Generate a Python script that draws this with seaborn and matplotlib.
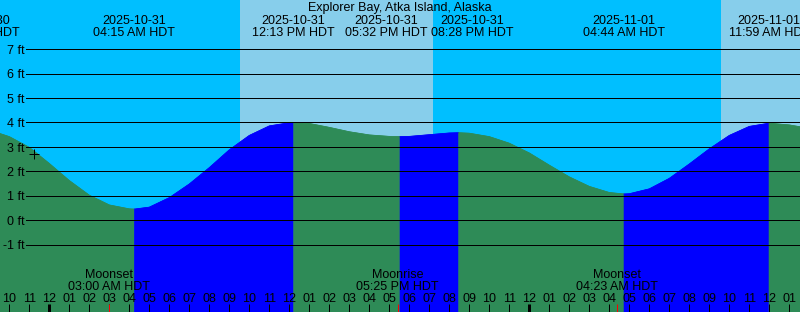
import matplotlib
matplotlib.use("Agg")
import matplotlib.pyplot as plt
import numpy as np
import pandas as pd
import seaborn as sns

plt.rcParams['font.family'] = ['Liberation Sans', 'DejaVu Sans']

# ---------------- data ----------------
title = "Explorer Bay, Atka Island, Alaska"
tz = "HDT"
origin = "2025-10-31 12:00 AM"
view_start = "2025-10-30 09:32 PM"
view_end = "2025-11-01 01:32 PM"

# tide extremes (time, height in ft)
ext_times = ["2025-10-30 08:27 PM", "2025-10-31 04:15 AM", "2025-10-31 12:13 PM",
             "2025-10-31 05:32 PM", "2025-10-31 08:28 PM", "2025-11-01 04:44 AM",
             "2025-11-01 11:59 AM"]
ext_ft = [3.73, 0.45, 4.00, 3.42, 3.58, 1.07, 3.97]

# tide height read at each hour (hours since 2025-10-31 00:00)
sample_hours = list(range(-3, 39))
sample_ft = [3.69, 3.42, 2.98, 2.32, 1.62, 1.02, 0.62, 0.46, 0.53, 0.92,
             1.48, 2.15, 2.88, 3.47, 3.86, 3.99, 3.96, 3.80, 3.62, 3.49,
             3.43, 3.43, 3.50, 3.57, 3.56, 3.42, 3.15, 2.75, 2.25, 1.77,
             1.38, 1.13, 1.08, 1.28, 1.71, 2.30, 2.92, 3.47, 3.84, 3.97,
             3.90, 3.76]

# moon events
moon_names = ["Moonset", "Moonrise", "Moonset"]
moon_times = ["2025-10-31 03:00 AM", "2025-10-31 05:25 PM", "2025-11-01 04:23 AM"]

# daylight (sunrise, sunset)
sunrise_times = ["2025-10-31 09:32 AM", "2025-11-01 09:35 AM"]
sunset_times = ["2025-10-31 07:11 PM", "2025-11-01 07:09 PM"]

# current-time marker
now_time = "2025-10-30 11:14 PM"
now_ft = 2.70

ft_levels = [-1, 0, 1, 2, 3, 4, 5, 6, 7]

# ---------------- helpers ----------------
FMT = "%Y-%m-%d %I:%M %p"
t0 = pd.to_datetime(origin, format=FMT)


def hrs(s):
    return (pd.to_datetime(s, format=FMT) - t0) / pd.Timedelta(hours=1)


W, H = 800, 312
BG = "#00BFFF"
DAY = "#87CEEB"
FALL = "#2E8B57"
RISE = "#0000FF"
FS = 9
PX = 72 / 100  # points per pixel

fig = plt.figure(figsize=(W / 100, H / 100), dpi=100)
fig.patch.set_facecolor(BG)
ax = fig.add_axes([0, 0, 1, 1])
ax.set_facecolor(BG)
for s in ax.spines.values():
    s.set_visible(False)
ax.set_xticks([])
ax.set_yticks([])

ax.set_xlim(hrs(view_start), hrs(view_end))
ax.set_ylim(-3.766, 9.02)


def yfrac(ypix):
    return 1 - ypix / H


xtr = ax.get_xaxis_transform()
ytr = ax.get_yaxis_transform()

# daylight bands
for sr, ss in zip(sunrise_times, sunset_times):
    ax.axvspan(hrs(sr), hrs(ss), color=DAY, lw=0, zorder=0)

# tide curve
ext_h = [hrs(t) for t in ext_times]
df = pd.DataFrame({"h": sample_hours + ext_h, "ft": sample_ft + ext_ft})
df = df.sort_values("h").reset_index(drop=True)

bounds = [-np.inf] + sorted(ext_h) + [np.inf]
for b0, b1 in zip(bounds[:-1], bounds[1:]):
    seg = df[(df.h >= b0) & (df.h <= b1)]
    if len(seg) < 2:
        continue
    color = RISE if seg.ft.iloc[-1] > seg.ft.iloc[0] else FALL
    ax.fill_between(seg.h, seg.ft, -10, color=color, lw=0.4, zorder=1)
    sns.lineplot(x=seg.h.values, y=seg.ft.values, ax=ax, color=color,
                 linewidth=0.6, estimator=None, sort=False, zorder=2)

# horizontal ft lines and labels
for lv in ft_levels:
    ax.axhline(lv, xmin=26 / W, xmax=1, color="black", lw=1 * PX, zorder=3)
    ax.annotate(f"{lv} ft", xy=(24.5 / W, lv), xycoords=ytr,
                xytext=(0, -4.7 * PX), textcoords="offset points",
                ha="right", va="baseline", fontsize=FS, zorder=4)

# current marker
sns.scatterplot(x=[hrs(now_time)], y=[now_ft], ax=ax, marker="+", s=(10 * PX) ** 2,
                color="black", linewidth=1 * PX, zorder=5)

# title
ax.text(0.5, yfrac(11), title, transform=ax.transAxes, ha="center",
        va="baseline", fontsize=FS, zorder=6)

# extreme labels
dates, times = [], []
for t in ext_times:
    ts = pd.to_datetime(t, format=FMT)
    x = hrs(t)
    d = ax.text(x, yfrac(24), ts.strftime("%Y-%m-%d"), transform=xtr,
                ha="center", va="baseline", fontsize=FS, zorder=6)
    tt = ax.text(x, yfrac(36), ts.strftime("%I:%M %p") + " " + tz, transform=xtr,
                 ha="center", va="baseline", fontsize=FS, zorder=6)
    dates.append(d)
    times.append(tt)

fig.canvas.draw()
r = fig.canvas.get_renderer()
widths = [max(d.get_window_extent(r).width, t.get_window_extent(r).width)
          for d, t in zip(dates, times)]
centers = [ax.transData.transform((h, 0))[0] for h in ext_h]
gap = 3
for _ in range(30):
    for i in range(len(centers) - 1):
        ov = (centers[i] + widths[i] / 2 + gap) - (centers[i + 1] - widths[i + 1] / 2)
        if ov > 0:
            centers[i] -= ov / 2
            centers[i + 1] += ov / 2
inv = ax.transData.inverted()
for d, t, c in zip(dates, times, centers):
    xd = inv.transform((c, 0))[0]
    d.set_x(xd)
    t.set_x(xd)

# hour ticks and labels
start_h = int(np.ceil(hrs(view_start)))
end_h = int(np.floor(hrs(view_end)))
for h in range(start_h, end_h + 1):
    hod = h % 24
    lbl = f"{(hod % 12) or 12:02d}"
    ax.text(h, yfrac(302), lbl, transform=xtr, ha="center", va="baseline",
            fontsize=FS, zorder=6)
    lw = 3 if hod == 0 else 1
    ax.vlines(h, 0, 8 / H, transform=xtr, color="black", lw=lw * PX, zorder=6)

# moon events
for name, t in zip(moon_names, moon_times):
    ts = pd.to_datetime(t, format=FMT)
    x = hrs(t)
    ax.text(x, yfrac(278), name, transform=xtr, ha="center", va="baseline",
            fontsize=FS, zorder=6)
    ax.text(x, yfrac(290), ts.strftime("%I:%M %p") + " " + tz, transform=xtr,
            ha="center", va="baseline", fontsize=FS, zorder=6)
    ax.vlines(x, 0, 8 / H, transform=xtr, color="red", lw=1 * PX, zorder=7)

fig.savefig("out.png", dpi=100, facecolor=BG)
